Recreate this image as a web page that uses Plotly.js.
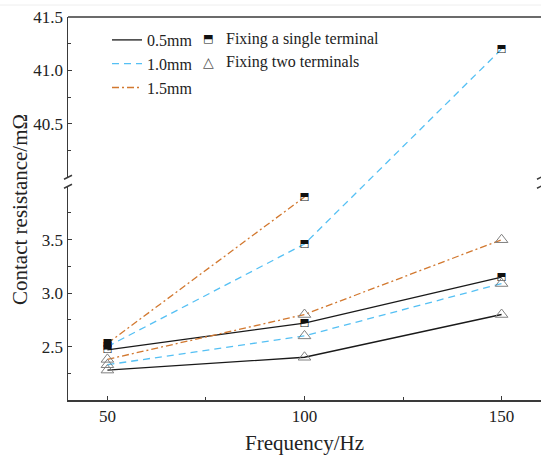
<!DOCTYPE html>
<html><head><meta charset="utf-8">
<script src="https://cdn.plot.ly/plotly-3.0.1.min.js"></script>
<style>body{margin:0;background:#fff}</style>
</head><body><div id="chart" style="width:541px;height:455px"></div>
<script>
// ---- data ----
const frequency = [50, 100, 150];
const thicknessLabels = ['0.5mm', '1.0mm', '1.5mm'];
const single05 = [2.47, 2.72, 3.15];
const single10 = [2.50, 3.46, 41.2];
const single15 = [2.53, 3.90, null];
const two05 = [2.28, 2.40, 2.80];
const two10 = [2.33, 2.60, 3.09];
const two15 = [2.38, 2.80, 3.50];
const markerLabels = ['Fixing a single terminal', 'Fixing two terminals'];
const xTicks = [50, 100, 150];
const xMinorTicks = [75, 125];
const lowerTicks = [2.5, 3.0, 3.5];
const lowerMinorTicks = [2.25, 2.75, 3.25, 3.75];
const upperTicks = [40.5, 41.0, 41.5];
const upperMinorTicks = [40.25, 40.75, 41.25];

// ---- layout geometry (broken y axis) ----
const W = 541, H = 455;
const M = {l: 68, r: 0, t: 17, b: 55};
const plotH = H - M.t - M.b, plotW = W - M.l - M.r;
const lowerRange = [2, 4], upperRange = [40, 41.5];
const gapPx = 9;
const P = (plotH - gapPx) / ((lowerRange[1]-lowerRange[0]) + (upperRange[1]-upperRange[0]));
const lowerTop = (lowerRange[1]-lowerRange[0]) * P / plotH;
const upperBottom = lowerTop + gapPx / plotH;
const gapUnits = gapPx / P;
// continuous drawing axis spanning both panels with the same scale
const drawRange = [lowerRange[0], lowerRange[0] + plotH / P];
const toDraw = v => v == null ? null : (v >= upperRange[0] ? lowerRange[1] + gapUnits + (v - upperRange[0]) : v);
const px2x = px => (px - M.l) / plotW;
const px2y = py => (H - M.b - py) / plotH;

const serif = 'Liberation Serif, Times New Roman, serif';
const axisColor = '#3a3a3a';
const styles = [
  {color: '#1a1a1a', dash: 'solid'},
  {color: '#55c0f4', dash: '7px,5px'},
  {color: '#d2782f', dash: '7px,3px,2px,3px'}
];
const singles = [single05, single10, single15];
const twos = [two05, two10, two15];

const traces = [];
// empty traces so both axis panels are drawn
traces.push({x: [], y: [], xaxis: 'x', yaxis: 'y', mode: 'lines', showlegend: false, hoverinfo: 'skip'});
traces.push({x: [], y: [], xaxis: 'x', yaxis: 'y2', mode: 'lines', showlegend: false, hoverinfo: 'skip'});
// lines
for (let i = 0; i < 3; i++) {
  const line = {color: styles[i].color, dash: styles[i].dash, width: 1.3};
  [singles[i], twos[i]].forEach((s, k) => {
    traces.push({x: frequency, y: s.map(toDraw), xaxis: 'x', yaxis: 'y3', mode: 'lines',
      line, name: thicknessLabels[i], legendgroup: 'g' + i, showlegend: k === 0,
      hoverinfo: 'skip'});
  });
}
// markers: single terminal (half-filled squares) and two terminals (open triangles)
for (let i = 0; i < 3; i++) {
  const s = singles[i];
  const xs = [], ys = [];
  s.forEach((v, j) => { if (v != null) { xs.push(frequency[j]); ys.push(toDraw(v)); } });
  traces.push({x: xs, y: ys, xaxis: 'x', yaxis: 'y3', mode: 'text', text: xs.map(() => '\u2B12'),
    textposition: 'middle center', textfont: {family: 'DejaVu Sans', size: 10.5, color: '#111'},
    showlegend: false, hoverinfo: 'skip'});
  traces.push({x: frequency, y: twos[i].map(toDraw), xaxis: 'x', yaxis: 'y3', mode: 'markers',
    marker: {symbol: 'triangle-up-open', size: 11, color: '#808080', line: {width: 1}},
    showlegend: false, hoverinfo: 'skip'});
}

const tickfont = {family: serif, size: 17, color: '#222'};
const yCommon = {
  showline: true, linecolor: axisColor, linewidth: 1.5, ticks: 'inside', ticklen: 4,
  tickcolor: axisColor, tickwidth: 1, showgrid: false, zeroline: false, tickfont,
  tickformat: '.1f', tickmode: 'array', anchor: 'x'
};
const layout = {
  width: W, height: H, margin: M, paper_bgcolor: '#fff', plot_bgcolor: 'rgba(0,0,0,0)',
  showlegend: true,
  xaxis: {range: [40, 160], domain: [0, 1], anchor: 'y', showline: true, linecolor: axisColor,
    linewidth: 1.5, ticks: 'inside', ticklen: 4, tickcolor: axisColor, showgrid: false,
    zeroline: false, tickmode: 'array', tickvals: xTicks, tickfont,
    minor: {tickmode: 'array', tickvals: xMinorTicks, ticks: 'inside', ticklen: 3, tickcolor: axisColor, showgrid: false}},
  yaxis: Object.assign({}, yCommon, {range: lowerRange, domain: [0, lowerTop], tickvals: lowerTicks,
    minor: {tickmode: 'array', tickvals: lowerMinorTicks, ticks: 'inside', ticklen: 3, tickcolor: axisColor, showgrid: false}}),
  yaxis2: Object.assign({}, yCommon, {range: upperRange, domain: [upperBottom, 1], tickvals: upperTicks,
    minor: {tickmode: 'array', tickvals: upperMinorTicks, ticks: 'inside', ticklen: 3, tickcolor: axisColor, showgrid: false}}),
  yaxis3: {range: drawRange, domain: [0, 1], anchor: 'x', visible: false, showgrid: false, zeroline: false},
  legend: {x: px2x(107), y: px2y(23), xanchor: 'left', yanchor: 'top', bgcolor: 'rgba(0,0,0,0)',
    font: {family: serif, size: 16, color: '#222'}, itemwidth: 30, tracegroupgap: 0, traceorder: 'normal'},
  shapes: [
    {type: 'line', xref: 'paper', yref: 'paper', x0: 0, x1: 1, y0: 1, y1: 1, line: {color: axisColor, width: 1.5}},
    {type: 'line', xref: 'paper', yref: 'paper', x0: -0.2, x1: 1, y0: px2y(5), y1: px2y(5), line: {color: '#eeeeee', width: 1}},
  ],
  annotations: [
    {xref: 'paper', yref: 'paper', x: px2x(20), y: px2y(210), text: 'Contact resistance/m\u03A9', textangle: -90,
      showarrow: false, font: {family: serif, size: 21, color: '#222'}, xanchor: 'center', yanchor: 'middle'},
    {xref: 'paper', yref: 'paper', x: 0.5, y: px2y(443), text: 'Frequency/Hz',
      showarrow: false, font: {family: serif, size: 21, color: '#222'}, xanchor: 'center', yanchor: 'middle'},
    {xref: 'paper', yref: 'paper', x: px2x(208), y: px2y(39), text: '\u2B12', showarrow: false,
      font: {family: 'DejaVu Sans', size: 11, color: '#111'}, xanchor: 'center', yanchor: 'middle'},
    {xref: 'paper', yref: 'paper', x: px2x(224), y: px2y(39), text: markerLabels[0], showarrow: false,
      font: {family: serif, size: 16, color: '#222'}, xanchor: 'left', yanchor: 'middle'},
    {xref: 'paper', yref: 'paper', x: px2x(208), y: px2y(62), text: '\u25B3', showarrow: false,
      font: {family: 'DejaVu Sans', size: 14, color: '#555'}, xanchor: 'center', yanchor: 'middle'},
    {xref: 'paper', yref: 'paper', x: px2x(224), y: px2y(62), text: markerLabels[1], showarrow: false,
      font: {family: serif, size: 16, color: '#222'}, xanchor: 'left', yanchor: 'middle'}
  ]
};
// axis-break marks on both sides
[0, 1].forEach(xa => {
  [lowerTop, upperBottom].forEach(yb => {
    layout.shapes.push({type: 'line', xref: 'paper', yref: 'paper', xsizemode: 'pixel', ysizemode: 'pixel',
      xanchor: xa, yanchor: yb, x0: -4, x1: 4, y0: -2, y1: 2, line: {color: axisColor, width: 1.5}});
  });
});
Plotly.newPlot('chart', traces, layout, {staticPlot: true, displayModeBar: false});
</script></body></html>
